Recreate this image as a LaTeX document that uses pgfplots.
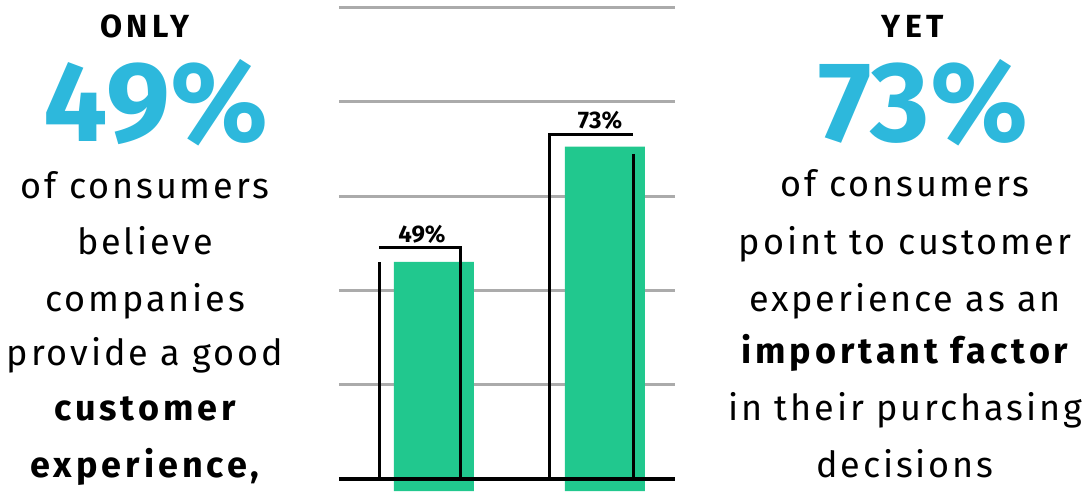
\documentclass[border=0pt]{standalone}
\usepackage{fontspec}
\setmainfont{Fira Sans}
\newfontfamily\rg{Fira Sans}[LetterSpace=8]
\newfontfamily\bd{Fira Sans}[LetterSpace=11]
\newfontfamily\cp{Fira Sans}[LetterSpace=14]
\usepackage{pgfplots}
\pgfplotsset{compat=1.18}
\definecolor{barg}{HTML}{21C88E}
\definecolor{bigc}{HTML}{2DB8DC}
\definecolor{gridg}{HTML}{ABABAB}
\newcommand\fs[1]{\fontsize{#1}{#1}\selectfont}
\begin{document}
\begin{tikzpicture}
\begin{axis}[
  at={(0,0)}, anchor=south west,
  width=1086pt, height=491pt, scale only axis,
  xmin=-2.538, xmax=3.813, ymin=1.25, ymax=103.54,
  hide axis, clip=true,
]
% grid lines (behind bars)
\addplot[gridg, line width=3pt, forget plot] coordinates {(-0.556,102.0) (1.409,102.0)};
\addplot[gridg, line width=3pt, forget plot] coordinates {(-0.556,82.4) (1.409,82.4)};
\addplot[gridg, line width=3pt, forget plot] coordinates {(-0.556,62.7) (1.409,62.7)};
\addplot[gridg, line width=3pt, forget plot] coordinates {(-0.556,43.1) (1.409,43.1)};
\addplot[gridg, line width=3pt, forget plot] coordinates {(-0.556,23.4) (1.409,23.4)};
% bars
\addplot[ybar, bar width=80pt, fill=barg, draw=none] coordinates {(0,49) (1,73)};
% baseline
\addplot[black, line width=3.2pt, forget plot] coordinates {(-0.556,3.75) (1.409,3.75)};
% brackets
\addplot[black, line width=3pt, forget plot] coordinates {(-0.316,3.75) (-0.316,49)};
\addplot[black, line width=3pt, forget plot] coordinates {(-0.322,51.9) (0.158,51.9) (0.158,3.75)};
\addplot[black, line width=3pt, forget plot] coordinates {(0.678,3.75) (0.678,75.6) (1.164,75.6)};
\addplot[black, line width=3pt, forget plot] coordinates {(1.164,71.5) (1.164,3.75)};
% bar labels
\node[anchor=base, inner sep=0pt, font=\fs{24}\bfseries] at (axis cs:-0.070,53.1) {49\%};
\node[anchor=base, inner sep=0pt, font=\fs{24}\bfseries] at (axis cs:0.971,76.7) {73\%};
% left text block
\node[anchor=base, inner sep=0pt, font=\cp\fs{32}\bfseries] at (rel axis cs:0.1335,0.9246) {ONLY};
\node[anchor=base, inner sep=0pt, font=\fs{114}\bfseries, text=bigc] at (rel axis cs:0.1436,0.7108) {49\%};
\node[anchor=base, inner sep=0pt, font=\rg\fs{36}] at (rel axis cs:0.1335,0.5967) {of consumers};
\node[anchor=base, inner sep=0pt, font=\rg\fs{36}] at (rel axis cs:0.1335,0.4807) {believe};
\node[anchor=base, inner sep=0pt, font=\rg\fs{36}] at (rel axis cs:0.1335,0.3666) {companies};
\node[anchor=base, inner sep=0pt, font=\rg\fs{36}] at (rel axis cs:0.1335,0.2546) {provide a good};
\node[anchor=base, inner sep=0pt, font=\bd\fs{36}\bfseries] at (rel axis cs:0.1335,0.1426) {customer};
\node[anchor=base, inner sep=0pt, font=\bd\fs{36}\bfseries] at (rel axis cs:0.1335,0.0285) {experience,};
% right text block
\node[anchor=base, inner sep=0pt, font=\cp\fs{32}\bfseries] at (rel axis cs:0.8407,0.9246) {YET};
\node[anchor=base, inner sep=0pt, font=\fs{114}\bfseries, text=bigc] at (rel axis cs:0.8499,0.7108) {73\%};
\node[anchor=base, inner sep=0pt, font=\rg\fs{36}] at (rel axis cs:0.8333,0.5988) {of consumers};
\node[anchor=base, inner sep=0pt, font=\rg\fs{36}] at (rel axis cs:0.8333,0.4807) {point to customer};
\node[anchor=base, inner sep=0pt, font=\rg\fs{36}] at (rel axis cs:0.8333,0.3646) {experience as an};
\node[anchor=base, inner sep=0pt, font=\bd\fs{36}\bfseries] at (rel axis cs:0.8333,0.2587) {important factor};
\node[anchor=base, inner sep=0pt, font=\rg\fs{36}] at (rel axis cs:0.8333,0.1446) {in their purchasing};
\node[anchor=base, inner sep=0pt, font=\rg\fs{36}] at (rel axis cs:0.8333,0.0285) {decisions};
\end{axis}
\useasboundingbox (0,0) rectangle (1086pt,491pt);
\end{tikzpicture}
\end{document}
